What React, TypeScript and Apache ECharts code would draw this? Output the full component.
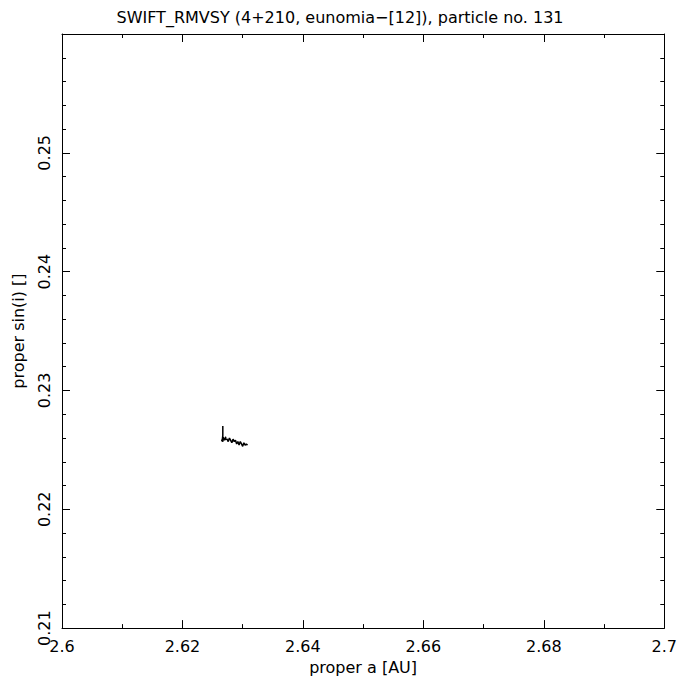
import React, { useEffect, useRef } from "react";
import * as echarts from "echarts";

const titleText = "SWIFT_RMVSY (4+210, eunomia\u2212[12]), particle no. 131";
const xName = "proper a [AU]";
const yName = "proper sin(i) []";
const xRange = [2.6, 2.7];
const yRange = [0.21, 0.26];

const properA = [
  2.6267, 2.6267, 2.6266, 2.6268, 2.6267, 2.6265, 2.6269, 2.6270, 2.6272, 2.6271,
  2.6274, 2.6276, 2.6278, 2.6280, 2.6282, 2.6284, 2.6286, 2.6288, 2.6290, 2.6292,
  2.6294, 2.6296, 2.6298, 2.6300, 2.6302, 2.6304, 2.6306, 2.6308,
];
const properSinI = [
  0.2270, 0.2262, 0.2258, 0.2261, 0.2257, 0.2258, 0.2260, 0.2258, 0.2261, 0.2259,
  0.2259, 0.2257, 0.2260, 0.2258, 0.2256, 0.2259, 0.2257, 0.2258, 0.2255, 0.2257,
  0.2254, 0.2257, 0.2255, 0.2253, 0.2256, 0.2254, 0.2255, 0.2254,
];

const FONT = "DejaVu Sans";

export default function App() {
  const ref = useRef<HTMLDivElement>(null);
  useEffect(() => {
    if (!ref.current) return;
    const chart = echarts.init(ref.current, null, { renderer: "svg" });
    const data = properA.map((a, i) => [a, properSinI[i]]);
    const lineStyle = { color: "#000", width: 1 };
    const xCommon = {
      type: "value",
      min: xRange[0],
      max: xRange[1],
      interval: 0.02,
      splitLine: { show: false },
      axisLine: { show: true, onZero: false, lineStyle },
      axisTick: { show: true, inside: true, length: 8, lineStyle },
      minorTick: { show: true, splitNumber: 2, length: 4, lineStyle },
    };
    const yCommon = {
      type: "value",
      min: yRange[0],
      max: yRange[1],
      interval: 0.01,
      splitLine: { show: false },
      axisLine: { show: true, onZero: false, lineStyle },
      axisTick: { show: true, inside: true, length: 8, lineStyle },
      minorTick: { show: true, splitNumber: 5, length: 4, lineStyle },
    };
    chart.setOption({
      animation: false,
      backgroundColor: "#fff",
      title: {
        text: titleText,
        left: "center",
        top: 4,
        textStyle: { fontFamily: FONT, fontSize: 16, fontWeight: "normal", color: "#000" },
      },
      grid: { left: 62, right: 13, top: 34, bottom: 49 },
      xAxis: [
        {
          ...xCommon,
          position: "bottom",
          name: xName,
          nameLocation: "middle",
          nameGap: 29,
          nameTextStyle: { fontFamily: FONT, fontSize: 16, color: "#000" },
          axisLabel: {
            fontFamily: FONT,
            fontSize: 16,
            color: "#000",
            margin: 10,
            formatter: (v: number) => String(parseFloat(v.toFixed(4))),
          },
        },
        { ...xCommon, position: "top", axisLabel: { show: false } },
      ],
      yAxis: [
        {
          ...yCommon,
          position: "left",
          name: yName,
          nameLocation: "middle",
          nameGap: 36,
          nameTextStyle: { fontFamily: FONT, fontSize: 16, color: "#000" },
          axisLabel: {
            fontFamily: FONT,
            fontSize: 16,
            color: "#000",
            rotate: 90,
            margin: 10,
            showMaxLabel: false,
            formatter: (v: number) => String(parseFloat(v.toFixed(4))),
          },
        },
        { ...yCommon, position: "right", axisLabel: { show: false } },
      ],
      series: [
        {
          type: "line",
          xAxisIndex: 0,
          yAxisIndex: 0,
          data,
          showSymbol: false,
          symbol: "none",
          lineStyle: { color: "#000", width: 1.5 },
        },
      ],
    });
    return () => chart.dispose();
  }, []);
  return (
    <div
      ref={ref}
      style={{ position: "fixed", left: 0, top: 0, width: 680, height: 680, background: "#fff" }}
    />
  );
}
